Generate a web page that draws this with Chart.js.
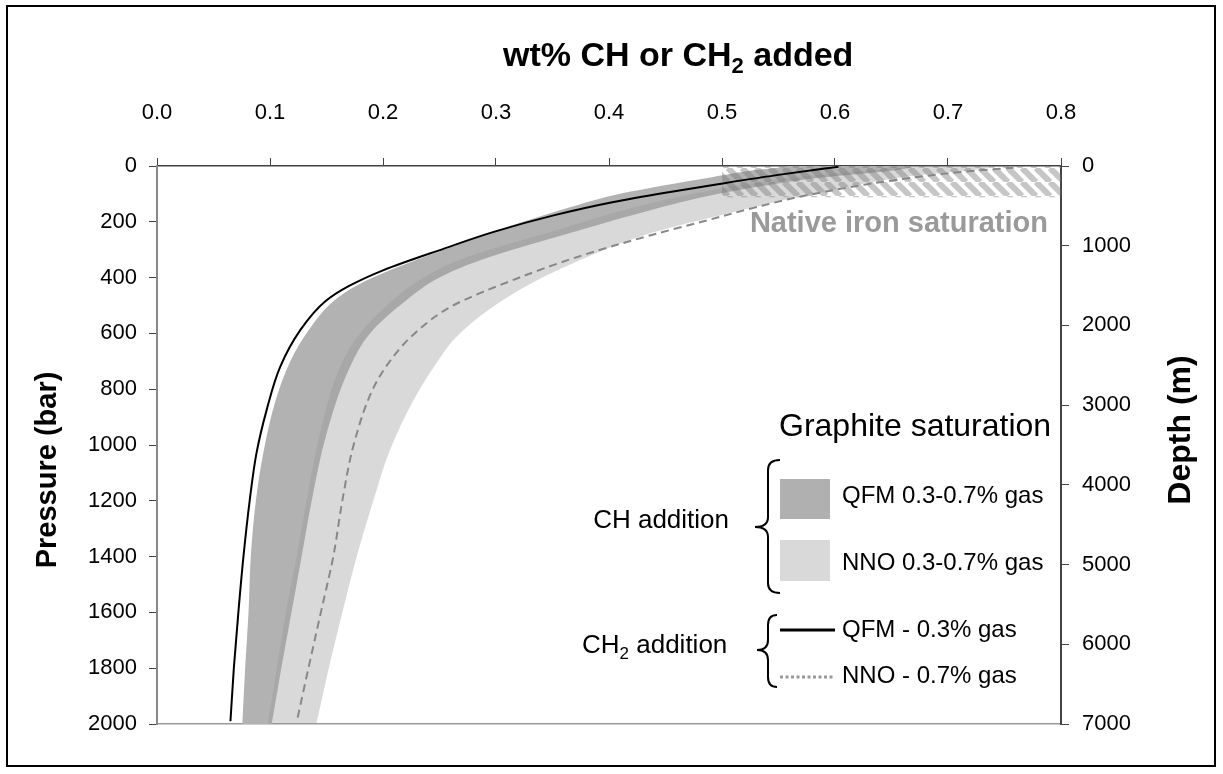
<!DOCTYPE html>
<html>
<head>
<meta charset="utf-8">
<script src="https://cdn.jsdelivr.net/npm/chart.js@4.4.1/dist/chart.umd.min.js"></script>
<style>
  html, body { margin: 0; padding: 0; background: #fff; }
  #wrap { width: 1223px; height: 774px; position: relative; }
</style>
</head>
<body>
<div id="wrap"><canvas id="chart"></canvas></div>
<script>

// CH2 addition, QFM - 0.3% gas (black line)
var qfmLineP  = [3, 30, 66, 93, 129, 177, 236, 296, 374, 430, 485, 590, 720, 875, 1030, 1200, 1400, 1600, 1800, 1990];
var qfmLineWt = [0.603, 0.553, 0.495, 0.454, 0.404, 0.351, 0.298, 0.254, 0.200, 0.170, 0.149, 0.1265, 0.109, 0.097, 0.088, 0.082, 0.0765, 0.072, 0.068, 0.065];

// CH2 addition, NNO - 0.7% gas (dashed line)
var nnoLineP  = [6, 20, 51, 105, 150, 200, 248, 326, 404, 500, 600, 700, 800, 1000, 1200, 1400, 1600, 1800, 1993];
var nnoLineWt = [0.758, 0.715, 0.652, 0.575, 0.528, 0.482, 0.437, 0.372, 0.318, 0.262, 0.228, 0.206, 0.191, 0.174, 0.164, 0.156, 0.145, 0.134, 0.1236];

// CH addition, QFM 0.3-0.7% gas (dark band) - two edges
var qfmLeftP   = [0, 15, 39, 70, 105, 150, 200, 230, 260, 296, 330, 374, 430, 485, 590, 700, 840, 1020, 1200, 1400, 1600, 1800, 2000];
var qfmLeftWt  = [0.56, 0.528, 0.492, 0.448, 0.404, 0.364, 0.324, 0.301, 0.280, 0.257, 0.234, 0.206, 0.176, 0.156, 0.134, 0.118, 0.105, 0.0945, 0.0875, 0.083, 0.081, 0.078, 0.0755];
var qfmRightP  = [0, 50, 99, 160, 230, 338, 400, 480, 600, 720, 960, 1200, 1400, 1600, 1800, 2000];
var qfmRightWt = [0.67, 0.57, 0.498, 0.435, 0.374, 0.286, 0.250, 0.221, 0.1885, 0.1708, 0.150, 0.1369, 0.128, 0.119, 0.110, 0.1015];

// CH addition, NNO 0.3-0.7% gas (light band) - two edges
var nnoLeftP   = [0, 45, 90, 150, 220, 330, 400, 480, 600, 720, 960, 1200, 1400, 1600, 1800, 2000];
var nnoLeftWt  = [0.65, 0.555, 0.487, 0.421, 0.362, 0.272, 0.236, 0.209, 0.1796, 0.162, 0.1442, 0.1324, 0.1236, 0.114, 0.106, 0.098];
var nnoRightP  = [0, 40, 100, 177, 237, 338, 457, 600, 720, 840, 1020, 1200, 1400, 1600, 1800, 2000];
var nnoRightWt = [0.74, 0.66, 0.58, 0.498, 0.44, 0.374, 0.3155, 0.268, 0.245, 0.227, 0.206, 0.1914, 0.1767, 0.164, 0.152, 0.141];

// native iron saturation field
var ironWt = [0.5, 0.8];
var ironP  = [0, 112];

var FONT = 'Liberation Sans, Arial, Helvetica, sans-serif';

function pts(wt, p) {
  return wt.map(function (w, i) { return { x: w, y: p[i] }; });
}
// closed outline: left edge bottom->top then right edge top->bottom
function band(lWt, lP, rWt, rP) {
  return pts(lWt, lP).reverse().concat(pts(rWt, rP));
}

function hatch(ctx) {
  var s = 14;
  var cv = document.createElement('canvas');
  cv.width = s; cv.height = s;
  var g = cv.getContext('2d');
  g.strokeStyle = 'rgba(120,120,120,0.42)';
  g.lineWidth = 6;
  for (var k = -1; k <= 1; k++) {
    g.beginPath();
    g.moveTo(k * s, 0);
    g.lineTo(k * s + s, s);
    g.stroke();
  }
  return ctx.createPattern(cv, 'repeat');
}

function brace(c, xr, xm, xt, y0, ym, y1) {
  var r = 10;
  c.beginPath();
  c.moveTo(xr, y0);
  c.quadraticCurveTo(xm, y0, xm, y0 + r);
  c.lineTo(xm, ym - r);
  c.quadraticCurveTo(xm, ym, xt, ym);
  c.quadraticCurveTo(xm, ym, xm, ym + r);
  c.lineTo(xm, y1 - r);
  c.quadraticCurveTo(xm, y1, xr, y1);
  c.stroke();
}

// text with a subscript part: parts = [[text, isSub], ...]
function subText(c, parts, x, y, size, weight) {
  parts.forEach(function (p) {
    var sz = p[1] ? Math.round(size * 0.65) : size;
    c.font = weight + ' ' + sz + 'px ' + FONT;
    c.fillText(p[0], x, p[1] ? y + size * 0.22 : y);
    x += c.measureText(p[0]).width;
  });
}

var extras = {
  id: 'extras',
  afterDraw: function (chart) {
    var c = chart.ctx;
    var xs = chart.scales.x, ys = chart.scales.y;
    c.save();

    // outer frame
    c.strokeStyle = '#000';
    c.lineWidth = 2;
    c.strokeRect(7, 6, 1208, 760);

    c.fillStyle = '#000';
    c.textBaseline = 'alphabetic';
    c.textAlign = 'left';

    // top axis title
    subText(c, [['wt% CH or CH', false], ['2', true], [' added', false]], 503, 66, 34, 'bold');

    // side titles
    c.font = 'bold 29px ' + FONT;
    c.textAlign = 'center';
    c.textBaseline = 'middle';
    c.save(); c.translate(48, 470); c.rotate(-Math.PI / 2);
    c.fillText('Pressure (bar)', 0, 0); c.restore();
    c.font = 'bold 32px ' + FONT;
    c.save(); c.translate(1181, 430); c.rotate(-Math.PI / 2);
    c.fillText('Depth (m)', 0, 0); c.restore();

    // native iron label
    c.textAlign = 'right';
    c.textBaseline = 'alphabetic';
    c.fillStyle = '#9a9a9a';
    c.font = 'bold 29px ' + FONT;
    c.fillText('Native iron saturation', xs.getPixelForValue(ironWt[1]) - 13, ys.getPixelForValue(ironP[1]) + 35);

    // legend
    c.fillStyle = '#000';
    c.textAlign = 'left';
    c.font = '32px ' + FONT;
    c.fillText('Graphite saturation', 779, 436);

    c.fillStyle = '#b0b0b0';
    c.fillRect(780, 479, 50, 40);
    c.fillStyle = '#d9d9d9';
    c.fillRect(780, 540, 50, 41);

    c.strokeStyle = '#000';
    c.lineWidth = 3;
    c.beginPath(); c.moveTo(780, 630); c.lineTo(835, 630); c.stroke();
    c.strokeStyle = '#999';
    c.setLineDash([3, 2.5]);
    c.beginPath(); c.moveTo(780, 677); c.lineTo(835, 677); c.stroke();
    c.setLineDash([]);

    c.strokeStyle = '#000';
    c.lineWidth = 2;
    brace(c, 780, 768, 755, 460, 527, 593);
    brace(c, 777, 768, 757, 615, 650, 687);

    c.fillStyle = '#000';
    c.font = '24px ' + FONT;
    c.fillText('QFM 0.3-0.7% gas', 842, 503);
    c.fillText('NNO 0.3-0.7% gas', 842, 570);
    c.fillText('QFM - 0.3% gas', 842, 637);
    c.fillText('NNO - 0.7% gas', 842, 683);

    c.font = '26px ' + FONT;
    c.textAlign = 'right';
    c.fillText('CH addition', 729, 528);
    c.textAlign = 'left';
    subText(c, [['CH', false], ['2', true], [' addition', false]], 582, 653, 26, 'normal');

    c.restore();
  }
};

var ctx = document.getElementById('chart').getContext('2d');
var tickFont = { family: FONT, size: 22 };

// curves are functions of pressure, so interpolate along the y axis
var smooth = { indexAxis: 'y', cubicInterpolationMode: 'monotone' };

var myChart = new Chart(ctx, {
  type: 'line',
  data: {
    datasets: [
      Object.assign({
        label: 'QFM - 0.3% gas',
        data: pts(qfmLineWt, qfmLineP),
        borderColor: '#000',
        borderWidth: 2,
        fill: false,
        order: 0
      }, smooth),
      Object.assign({
        label: 'NNO - 0.7% gas',
        data: pts(nnoLineWt, nnoLineP),
        borderColor: '#888',
        borderWidth: 2,
        borderDash: [8, 5],
        fill: false,
        order: 1
      }, smooth),
      {
        label: 'Native iron saturation',
        data: pts([ironWt[0], ironWt[1], ironWt[1], ironWt[0]], [ironP[0], ironP[0], ironP[1], ironP[1]]),
        borderWidth: 0,
        backgroundColor: hatch(ctx),
        fill: 'shape',
        tension: 0,
        order: 2
      },
      Object.assign({
        label: 'NNO 0.3-0.7% gas',
        data: band(nnoLeftWt, nnoLeftP, nnoRightWt, nnoRightP),
        borderWidth: 0,
        backgroundColor: 'rgba(151,151,151,0.364)',
        fill: 'shape',
        order: 3
      }, smooth),
      Object.assign({
        label: 'QFM 0.3-0.7% gas',
        data: band(qfmLeftWt, qfmLeftP, qfmRightWt, qfmRightP),
        borderWidth: 0,
        backgroundColor: '#b2b2b2',
        fill: 'shape',
        order: 4
      }, smooth)
    ]
  },
  options: {
    responsive: true,
    maintainAspectRatio: false,
    animation: false,
    layout: { padding: 0 },
    elements: { point: { radius: 0 } },
    plugins: { legend: { display: false }, tooltip: { enabled: false } },
    scales: {
      x: {
        type: 'linear',
        position: 'top',
        min: 0,
        max: 0.8,
        ticks: { stepSize: 0.1, padding: 32, color: '#000', font: tickFont,
                 callback: function (v) { return v.toFixed(1); } },
        grid: { drawOnChartArea: false, tickLength: 8, color: '#444' },
        border: { color: '#444', width: 1.5 },
        afterFit: function (s) { s.height = 166; }
      },
      xb: {
        type: 'linear',
        position: 'bottom',
        min: 0,
        max: 0.8,
        ticks: { display: false },
        grid: { display: false },
        border: { color: '#9a9a9a', width: 1.5 },
        afterFit: function (s) { s.height = 50; }
      },
      y: {
        type: 'linear',
        position: 'left',
        reverse: true,
        min: 0,
        max: 2000,
        ticks: { stepSize: 200, padding: 12, color: '#000', font: tickFont,
                 callback: function (v) { return String(v); } },
        grid: { drawOnChartArea: false, tickLength: 8, color: '#444' },
        border: { color: '#888', width: 2 },
        afterFit: function (s) { s.width = 157; }
      },
      y2: {
        type: 'linear',
        position: 'right',
        reverse: true,
        min: 0,
        max: 7000,
        ticks: { stepSize: 1000, padding: 13, color: '#000', font: tickFont,
                 callback: function (v) { return String(v); } },
        grid: { drawOnChartArea: false, tickLength: 8, color: '#444' },
        border: { color: '#444', width: 2 },
        afterFit: function (s) { s.width = 162; }
      }
    }
  },
  plugins: [extras]
});
</script>
</body>
</html>
